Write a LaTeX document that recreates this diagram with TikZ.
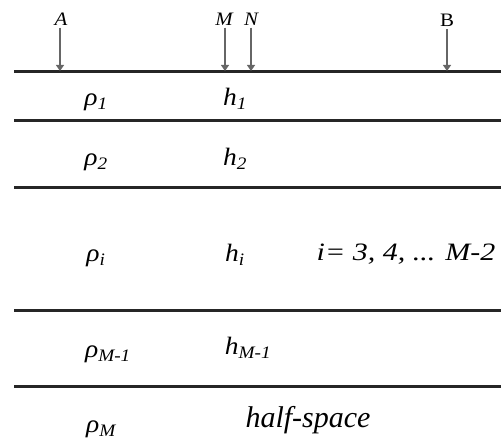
\documentclass[tikz,border=0pt]{standalone}
\usepackage{fontspec}
\setmainfont{Liberation Serif}
\usepackage{graphicx}
\usetikzlibrary{arrows.meta}
\newcommand{\sxs}[2]{\scalebox{#1}[1]{#2}}
\tikzset{
  layline/.style={line width=3pt, draw=black!85},
  probe/.style={draw=black!60, line width=1.3pt, -{Triangle[width=8pt,length=6pt]}},
  elec/.style={font=\fontsize{19}{19}\selectfont, anchor=base, inner sep=1.5pt},
  lbl/.style={font=\fontsize{25}{25}\selectfont\itshape, anchor=base, inner sep=0pt},
  big/.style={font=\fontsize{30}{30}\selectfont\itshape, anchor=base, inner sep=0pt}
}
\begin{document}
\begin{tikzpicture}[x=1pt,y=-1pt]
\useasboundingbox (0,0) rectangle (501,443);
% layer boundaries
\coordinate (L0a) at (14,72);  \coordinate (L0b) at (501,72);
\coordinate (L1a) at (14,121); \coordinate (L1b) at (501,121);
\coordinate (L2a) at (14,188); \coordinate (L2b) at (501,188);
\coordinate (L3a) at (14,311); \coordinate (L3b) at (501,311);
\coordinate (L4a) at (14,387); \coordinate (L4b) at (501,387);
\foreach \i in {0,...,4} \draw[layline] (L\i a) -- (L\i b);
% electrodes
\node[elec] (lA) at (61,26) {\sxs{1.1}{\itshape A}};
\node[elec] (lM) at (224,26) {\sxs{1.1}{\itshape M}};
\node[elec] (lN) at (251,26) {\sxs{1.1}{\itshape N}};
\node[elec] (lB) at (447,27) {\sxs{1.1}{B}};
\coordinate (pA) at (60,71);
\coordinate (pM) at (225,71);
\coordinate (pN) at (251,71);
\coordinate (pB) at (447,71);
\draw[probe] (lA.south -| pA) -- (pA);
\draw[probe] (lM.south -| pM) -- (pM);
\draw[probe] (lN.south -| pN) -- (pN);
\draw[probe] (lB.south -| pB) -- (pB);
% labels
\node[lbl] (r1) at (96,106) {\sxs{1.1}{ρ\textsubscript{1}}};
\node[lbl] (h1) at (235,106) {\sxs{1.1}{h\textsubscript{1}}};
\node[lbl] (r2) at (96,166) {\sxs{1.1}{ρ\textsubscript{2}}};
\node[lbl] (h2) at (235,166) {\sxs{1.1}{h\textsubscript{2}}};
\node[lbl] (ri) at (96,262) {\sxs{1.1}{ρ\textsubscript{i}}};
\node[lbl] (hi) at (235,262) {\sxs{1.1}{h\textsubscript{i}}};
\node[lbl] (ii) at (406,261) {\sxs{1.2}{i= 3, 4, ... M-2}};
\node[lbl] (rM1) at (108,358) {\sxs{1.1}{ρ\textsubscript{M-1}}};
\node[lbl] (hM1) at (248,355) {\sxs{1.1}{h\textsubscript{M-1}}};
\node[lbl] (rM) at (101,433) {\sxs{1.1}{ρ\textsubscript{M}}};
\node[big] (hs) at (308,428) {half-space};
\end{tikzpicture}
\end{document}
